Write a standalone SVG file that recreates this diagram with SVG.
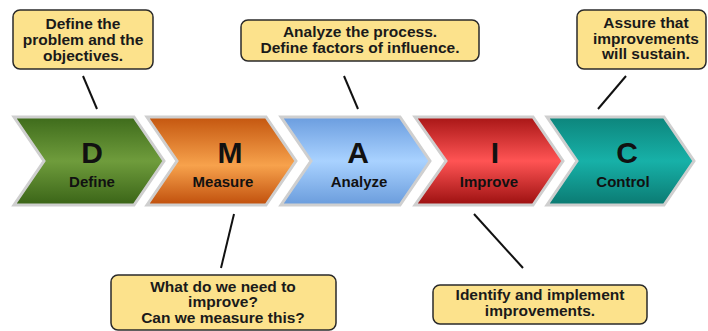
<svg xmlns="http://www.w3.org/2000/svg" width="708" height="331" viewBox="0 0 708 331">
<defs>
<linearGradient id="gD" x1="0" y1="0" x2="0" y2="1"><stop offset="0" stop-color="#3e6b1b"/><stop offset="0.5" stop-color="#6f9c3c"/><stop offset="1" stop-color="#3a6417"/></linearGradient>
<linearGradient id="gM" x1="0" y1="0" x2="0" y2="1"><stop offset="0" stop-color="#c4560f"/><stop offset="0.55" stop-color="#f7a24c"/><stop offset="1" stop-color="#c04f0c"/></linearGradient>
<linearGradient id="gA" x1="0" y1="0" x2="0" y2="1"><stop offset="0" stop-color="#6b9ddf"/><stop offset="0.5" stop-color="#a9d2ff"/><stop offset="1" stop-color="#6a9cdc"/></linearGradient>
<linearGradient id="gI" x1="0" y1="0" x2="0" y2="1"><stop offset="0" stop-color="#a81616"/><stop offset="0.5" stop-color="#ff5454"/><stop offset="1" stop-color="#9c1010"/></linearGradient>
<linearGradient id="gC" x1="0" y1="0" x2="0" y2="1"><stop offset="0" stop-color="#0d857c"/><stop offset="0.5" stop-color="#17b1a8"/><stop offset="1" stop-color="#0b7a72"/></linearGradient>
</defs>
<style>
.chev{stroke:#cfcfcf;stroke-width:3;stroke-linejoin:miter}
.big{font-family:"Liberation Sans",Arial,sans-serif;font-weight:bold;font-size:30px;fill:#111;text-anchor:middle}
.lbl{font-family:"Liberation Sans",Arial,sans-serif;font-weight:bold;font-size:15px;fill:#111;text-anchor:middle}
.box{fill:#fce28c;stroke:#2a2a2a;stroke-width:1.5}
.ct{font-family:"Liberation Sans",Arial,sans-serif;font-weight:bold;font-size:15.5px;fill:#1a1a1a;text-anchor:middle}
.con{stroke:#111;stroke-width:2;fill:none}
</style>
<rect width="708" height="331" fill="#ffffff"/>
<g id="node-D">
<polygon class="chev" fill="url(#gD)" points="14,117 134,117 164,161 134,205 14,205 44,161"/>
<text class="big" x="92" y="163">D</text>
<text class="lbl" x="92" y="187">Define</text>
</g>
<g id="node-M">
<polygon class="chev" fill="url(#gM)" points="147,117 266,117 296,161 266,205 147,205 177,161"/>
<text class="big" x="230" y="163">M</text>
<text class="lbl" x="223" y="187">Measure</text>
</g>
<g id="node-A">
<polygon class="chev" fill="url(#gA)" points="281,117 400,117 430,161 400,205 281,205 311,161"/>
<text class="big" x="358" y="163">A</text>
<text class="lbl" x="359" y="187">Analyze</text>
</g>
<g id="node-I">
<polygon class="chev" fill="url(#gI)" points="415,117 533,117 563,161 533,205 415,205 446,161"/>
<text class="big" x="495" y="163">I</text>
<text class="lbl" x="489" y="187">Improve</text>
</g>
<g id="node-C">
<polygon class="chev" fill="url(#gC)" points="547,117 664,117 694,161 664,205 547,205 577,161"/>
<text class="big" x="627" y="163">C</text>
<text class="lbl" x="623" y="187">Control</text>
</g>
<g id="callout-define">
<rect class="box" x="13" y="10" width="140" height="59" rx="7"/>
<text class="ct" x="83" y="28.5">Define the</text>
<text class="ct" x="83" y="44.5">problem and the</text>
<text class="ct" x="83" y="60.5">objectives.</text>
</g>
<g id="callout-analyze">
<rect class="box" x="241" y="20" width="238" height="41" rx="7"/>
<text class="ct" x="360" y="37">Analyze the process.</text>
<text class="ct" x="360" y="53">Define factors of influence.</text>
</g>
<g id="callout-control">
<rect class="box" x="577" y="10" width="129" height="59" rx="7"/>
<text class="ct" x="646" y="28">Assure that</text>
<text class="ct" x="646" y="43.5">improvements</text>
<text class="ct" x="646" y="59">will sustain.</text>
</g>
<g id="callout-measure">
<rect class="box" x="111" y="275" width="225" height="55" rx="7"/>
<text class="ct" x="223" y="291.5">What do we need to</text>
<text class="ct" x="223" y="307">improve?</text>
<text class="ct" x="223" y="322.5">Can we measure this?</text>
</g>
<g id="callout-improve">
<rect class="box" x="433" y="285" width="214" height="39" rx="7"/>
<text class="ct" x="540" y="300">Identify and implement</text>
<text class="ct" x="540" y="315.5">improvements.</text>
</g>
<g id="connectors">
<line class="con" x1="83" y1="76" x2="97" y2="109"/>
<line class="con" x1="344" y1="76" x2="358" y2="109"/>
<line class="con" x1="626" y1="76" x2="598" y2="109"/>
<line class="con" x1="234" y1="214" x2="221" y2="268"/>
<line class="con" x1="474" y1="214" x2="523" y2="268"/>
</g>
</svg>
